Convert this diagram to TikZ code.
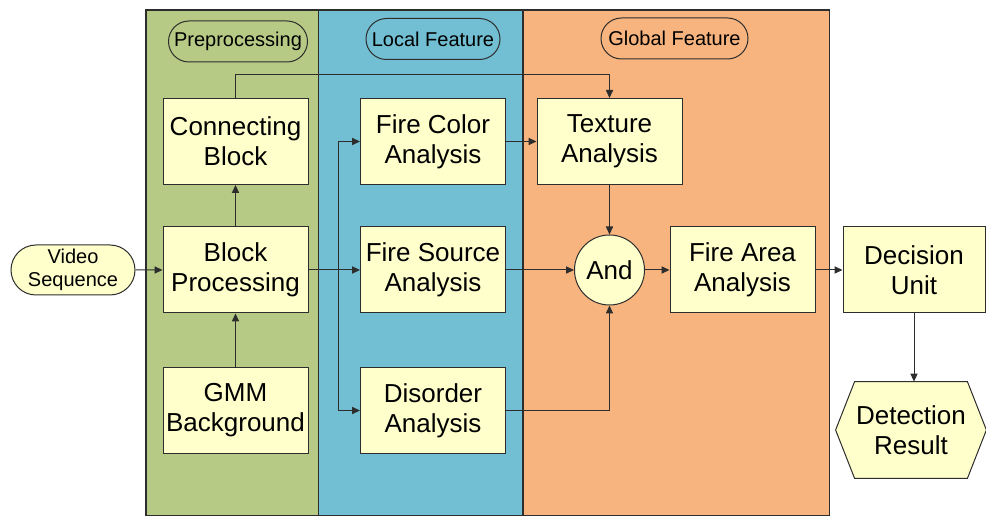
\documentclass[tikz,border=0pt]{standalone}
\usepackage{fontspec}
\setmainfont{Liberation Sans}
\usetikzlibrary{arrows.meta,shapes.misc,calc}

\definecolor{panelgreen}{RGB}{182,202,133}
\definecolor{panelblue}{RGB}{114,190,211}
\definecolor{panelorange}{RGB}{247,180,126}
\definecolor{boxfill}{RGB}{255,255,204}
\definecolor{edge}{RGB}{45,45,45}

\tikzset{
  panel/.style={draw=edge, line width=0.6pt},
  stepbox/.style={draw=edge, fill=boxfill, line width=0.5pt, inner sep=0pt,
    minimum width=72.5pt, minimum height=43pt, align=center,
    font=\fontsize{13}{15}\selectfont},
  tag/.style={draw=edge, rounded rectangle, line width=0.5pt, inner sep=0pt,
    minimum height=20.5pt, font=\fontsize{10}{12}\selectfont},
  andnode/.style={draw=edge, fill=boxfill, circle, line width=0.5pt, inner sep=0pt,
    minimum size=35pt, font=\fontsize{13}{15}\selectfont},
  arr/.style={draw=edge, line width=0.5pt, -{Triangle[length=4pt,width=3.6pt]}},
  ln/.style={draw=edge, line width=0.5pt}
}

\begin{document}
\begin{tikzpicture}[x=0.5pt, y=-0.5pt]
  \useasboundingbox (0,0) rectangle (986,529);

  % stage panels
  \fill[panelgreen] (146,10) rectangle (318.5,515.5);
  \fill[panelblue] (318.5,10) rectangle (523,515.5);
  \fill[panelorange] (523,10) rectangle (829.5,515.5);
  \draw[panel] (318.5,10) -- (318.5,515.5);
  \draw[panel] (523,10) -- (523,515.5);
  \draw[panel] (146,10) rectangle (829.5,515.5);

  % stage titles
  \node[tag, minimum width=69.5pt] (tpre) at (238,41.5) {Preprocessing};
  \node[tag, minimum width=67pt] (tloc) at (433,39) {Local Feature};
  \node[tag, minimum width=73.5pt] (tglo) at (674.5,38.5) {Global Feature};

  % input
  \node[draw=edge, fill=boxfill, rounded rectangle, line width=0.5pt, inner sep=0pt,
        minimum width=62pt, minimum height=25pt, align=center,
        font=\fontsize{10}{11.5}\selectfont] (video) at (73,270) {Video\\Sequence};

  % preprocessing
  \node[stepbox] (conn) at (235.5,141.5) {Connecting\\Block};
  \node[stepbox] (bp) at (235.5,270) {Block\\Processing};
  \node[stepbox] (gmm) at (235.5,410.5) {GMM\\Background};

  % local features
  \node[stepbox] (fc) at (433,141.5) {Fire Color\\Analysis};
  \node[stepbox] (fs) at (433,270) {Fire Source\\Analysis};
  \node[stepbox] (dis) at (433,410.5) {Disorder\\Analysis};

  % global features
  \node[stepbox] (tex) at (609.5,141.5) {Texture\\Analysis};
  \node[andnode] (and) at (609.5,270) {And};
  \node[stepbox] (fa) at (742.5,270) {Fire Area\\Analysis};

  % decision
  \node[stepbox, minimum width=71pt] (dec) at (914,270) {Decision\\Unit};
  \node[inner sep=0pt, minimum width=75pt, minimum height=48pt, align=center,
        font=\fontsize{13}{15}\selectfont] (det) at (911,430) {Detection\\Result};
  \fill[boxfill, draw=edge, line width=0.5pt]
    (det.west) -- ($(det.north west)+(19,0)$) -- ($(det.north east)+(-19,0)$)
    -- (det.east) -- ($(det.south east)+(-19,0)$) -- ($(det.south west)+(19,0)$) -- cycle;
  \node[align=center, font=\fontsize{13}{15}\selectfont] at (det) {Detection\\Result};

  % connectors
  \draw[arr] (video) -- (bp);
  \draw[arr] (gmm) -- (bp);
  \draw[arr] (bp) -- (conn);
  \draw[arr] (conn.north) -- ++(0,-23) -| (tex.north);

  \coordinate (split) at (338,270);
  \draw[arr] (bp) -- (fs);
  \draw[arr] (split) |- (fc);
  \draw[arr] (split) |- (dis);

  \draw[arr] (fc) -- (tex);
  \draw[arr] (tex) -- (and);
  \draw[arr] (fs) -- (and);
  \draw[arr] (dis.east) -| (and.south);
  \draw[arr] (and) -- (fa);
  \draw[arr] (fa) -- (dec);
  \draw[arr] (dec.south) -- (dec.south |- det.north);
\end{tikzpicture}
\end{document}
